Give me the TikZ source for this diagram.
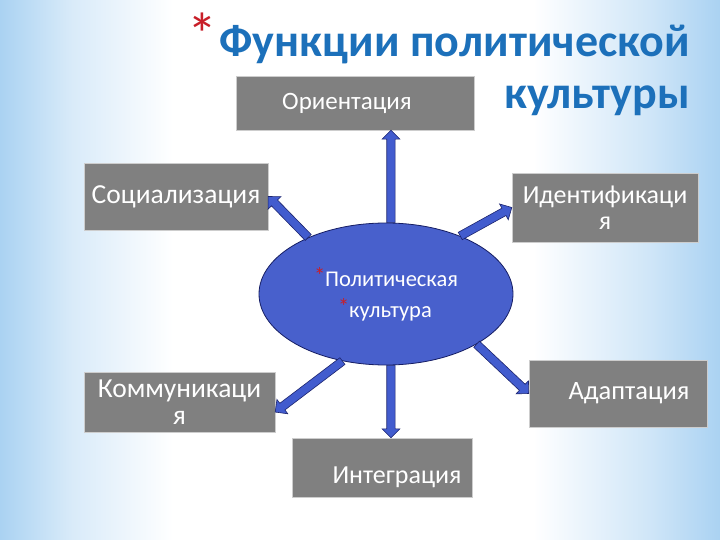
\documentclass[tikz,border=0pt]{standalone}
\usepackage{fontspec}
\setmainfont{Carlito}
\usetikzlibrary{arrows.meta,shapes.geometric,positioning,calc}
\definecolor{titleblue}{RGB}{28,112,186}
\definecolor{boxgray}{RGB}{128,128,128}
\definecolor{boxline}{RGB}{205,205,205}
\definecolor{ellblue}{RGB}{72,96,204}
\definecolor{ellline}{RGB}{22,30,100}
\definecolor{arrowblue}{RGB}{66,92,206}
\definecolor{arrowline}{RGB}{28,36,110}
\definecolor{bgblue}{RGB}{170,210,242}
\definecolor{starred}{RGB}{200,30,40}
\pgfdeclarehorizontalshading{bgshade}{100bp}{color(0bp)=(bgblue); color(25bp)=(bgblue);
  color(30bp)=(bgblue!45!white); color(37bp)=(white); color(62bp)=(white);
  color(70bp)=(bgblue!55!white); color(75bp)=(bgblue); color(100bp)=(bgblue)}
\tikzset{
    box/.style = {rectangle, draw=boxline, fill=boxgray, text=white, align=center,
                  font=\fontsize{27.5}{27}\selectfont},
    ell/.style = {ellipse, draw=ellline, thick, fill=ellblue, text=white, align=left,
                  font=\fontsize{22.5}{31}\selectfont},
    title/.style = {text=titleblue, font=\bfseries\fontsize{46}{46}\selectfont, inner sep=0pt},
    blockarrow/.style = {fill=arrowblue, draw=arrowline, line width=0.6pt, line join=miter}
}
\newcommand{\redstar}{\textcolor{starred}{*}}
% filled block arrow from #1 to #2
\newcommand{\blockarrow}[2]{%
  \path (#1) coordinate (s) (#2) coordinate (e) ($(e)!9pt!(s)$) coordinate (h);
  \draw[blockarrow] ($(s)!4.2pt!90:(e)$) -- ($(h)!4.2pt!-90:(s)$) -- ($(h)!9pt!-90:(s)$)
    -- (e) -- ($(h)!9pt!90:(s)$) -- ($(h)!4.2pt!90:(s)$) -- ($(s)!4.2pt!-90:(e)$) -- cycle;}

\begin{document}
\begin{tikzpicture}[x=1pt,y=-1pt]
  \shade[shading=bgshade] (0,0) rectangle (720,540);
  \useasboundingbox (0,0) rectangle (720,540);

  \node (T1) at (690,57) [title, anchor=base east] {\raisebox{1pt}{\fontsize{60}{60}\selectfont\mdseries\redstar}\hspace{2pt}Функции политической};
  \node (T2) at (690,109) [title, anchor=base east] {культуры};

  \node (ori) at (355,103) [box, minimum width=238pt, minimum height=54pt,
                            font=\fontsize{25}{25}\selectfont] {Ориентация\hspace*{16pt}};
  \node (soc) at (176,196.5) [box, minimum width=184pt, minimum height=67pt] {Социализация};
  \node (ident) at (605,207.5) [box, minimum width=186pt, minimum height=69pt,
                                font=\fontsize{26}{26}\selectfont] {Идентификаци\\я};
  \node (komm) at (179.5,402) [box, minimum width=191pt, minimum height=60pt] {Коммуникаци\\я};
  \node (adap) at (618,393.5) [box, minimum width=178pt, minimum height=67pt,
                               font=\fontsize{26.5}{26}\selectfont] {\hspace*{22pt}Адаптация};
  \node (integ) at (382,467.5) [box, minimum width=180pt, minimum height=59pt,
                                font=\fontsize{26}{26}\selectfont]
        {\hspace*{30pt}\raisebox{-10pt}[\height][\depth]{Интеграция}};

  \node (pk) at (386,294) [ell, minimum width=254pt, minimum height=142pt]
        {\raisebox{3pt}{\redstar}Политическая\\\hspace*{24pt}\raisebox{3pt}{\redstar}культура};

  \blockarrow{pk.86}{pk.86 |- ori.south}
  \blockarrow{pk.144}{soc.east}
  \blockarrow{pk.38}{ident.west}
  \blockarrow{pk.237}{komm.-6}
  \blockarrow{pk.331}{adap.west}
  \blockarrow{pk.-86}{pk.-86 |- integ.north}
\end{tikzpicture}
\end{document}
